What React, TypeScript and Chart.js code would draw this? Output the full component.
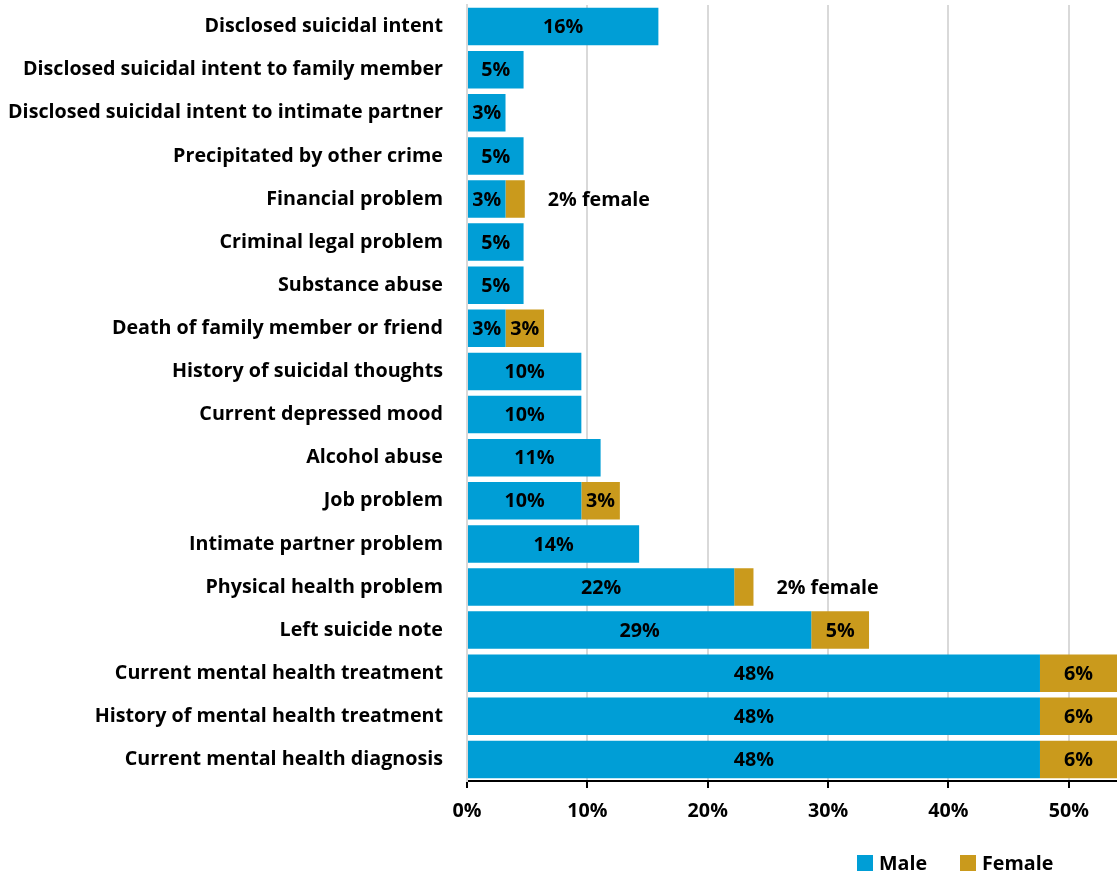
import React, { useEffect, useRef } from "react";
import { Chart, registerables } from "chart.js";

Chart.register(...registerables);

const categories = [
  "Disclosed suicidal intent",
  "Disclosed suicidal intent to family member",
  "Disclosed suicidal intent to intimate partner",
  "Precipitated by other crime",
  "Financial problem",
  "Criminal legal problem",
  "Substance abuse",
  "Death of family member or friend",
  "History of suicidal thoughts",
  "Current depressed mood",
  "Alcohol abuse",
  "Job problem",
  "Intimate partner problem",
  "Physical health problem",
  "Left suicide note",
  "Current mental health treatment",
  "History of mental health treatment",
  "Current mental health diagnosis",
];

const maleValues = [15.9, 4.7, 3.2, 4.7, 3.2, 4.7, 4.7, 3.2, 9.5, 9.5, 11.1, 9.5, 14.3, 22.2, 28.6, 47.6, 47.6, 47.6];
const femaleValues = [0, 0, 0, 0, 1.6, 0, 0, 3.2, 0, 0, 0, 3.2, 0, 1.6, 4.8, 6.4, 6.4, 6.4];
const maleLabels = ["16%", "5%", "3%", "5%", "3%", "5%", "5%", "3%", "10%", "10%", "11%", "10%", "14%", "22%", "29%", "48%", "48%", "48%"];
const femaleLabels = ["", "", "", "", "2% female", "", "", "3%", "", "", "", "3%", "", "2% female", "5%", "6%", "6%", "6%"];
const femaleLabelOutside = [false, false, false, false, true, false, false, false, false, false, false, false, false, true, false, false, false, false];
const xTicks = [0, 10, 20, 30, 40, 50];

const FONT = "'Open Sans'";
const FONT_SIZE = 19.7;
const MALE_COLOR = "#009ED6";
const FEMALE_COLOR = "#CA9A1C";

const labelPlugin = {
  id: "barLabels",
  afterDatasetsDraw(chart: any) {
    const ctx = chart.ctx;
    ctx.save();
    ctx.font = `bold ${FONT_SIZE}px ${FONT}`;
    ctx.fillStyle = "#000";
    ctx.textBaseline = "middle";
    chart.data.datasets.forEach((ds: any, di: number) => {
      const meta = chart.getDatasetMeta(di);
      meta.data.forEach((el: any, i: number) => {
        const text = di === 0 ? maleLabels[i] : femaleLabels[i];
        if (!text) return;
        if (di === 1 && femaleLabelOutside[i]) {
          ctx.textAlign = "left";
          ctx.fillText(text, el.x + 23, el.y + 1);
        } else {
          ctx.textAlign = "center";
          ctx.fillText(text, (el.x + el.base) / 2, el.y + 1);
        }
      });
    });
    ctx.restore();
  },
};

export default function App() {
  const ref = useRef<HTMLCanvasElement>(null);
  useEffect(() => {
    if (!ref.current) return;
    const chart = new Chart(ref.current, {
      type: "bar",
      data: {
        labels: categories,
        datasets: [
          {
            label: "Male",
            data: maleValues,
            backgroundColor: MALE_COLOR,
            borderWidth: 0,
            barPercentage: 0.87,
            categoryPercentage: 1,
          },
          {
            label: "Female",
            data: femaleValues,
            backgroundColor: FEMALE_COLOR,
            borderWidth: 0,
            barPercentage: 0.87,
            categoryPercentage: 1,
          },
        ],
      },
      options: {
        indexAxis: "y",
        animation: false,
        responsive: true,
        maintainAspectRatio: false,
        layout: { padding: { top: 5, right: 0, bottom: 0, left: 0 } },
        plugins: {
          legend: { display: false },
          tooltip: { enabled: false },
        },
        scales: {
          x: {
            stacked: true,
            min: 0,
            max: 54,
            afterBuildTicks(scale: any) {
              scale.ticks = xTicks.map((v) => ({ value: v }));
            },
            afterFit(scale: any) {
              scale.height = 92;
              scale.paddingRight = 0;
            },
            grid: {
              color: "#D9D9D9",
              lineWidth: 2,
              tickColor: "#000",
              tickLength: 7,
              tickWidth: 2,
            },
            border: { color: "#000", width: 2 },
            ticks: {
              padding: 12,
              color: "#000",
              font: { family: FONT, weight: "bold", size: FONT_SIZE },
              callback: (v: any) => v + "%",
              maxRotation: 0,
            },
          },
          y: {
            stacked: true,
            afterFit(scale: any) {
              scale.width = 467;
              scale.paddingTop = 0;
              scale.paddingBottom = 0;
            },
            grid: { display: false, drawTicks: false },
            border: { display: true, color: "#D9D9D9", width: 2 },
            ticks: {
              padding: 24,
              color: "#000",
              font: { family: FONT, weight: "bold", size: FONT_SIZE },
              autoSkip: false,
            },
          },
        },
      },
      plugins: [labelPlugin],
    });
    return () => chart.destroy();
  }, []);

  const legendText: React.CSSProperties = {
    position: "absolute",
    fontFamily: FONT,
    fontWeight: "bold",
    fontSize: FONT_SIZE,
    color: "#000",
    lineHeight: "20px",
    top: 853,
    whiteSpace: "nowrap",
  };
  const box = (c: string, left: number): React.CSSProperties => ({
    position: "absolute",
    left,
    top: 855,
    width: 16,
    height: 16,
    background: c,
  });

  return (
    <div style={{ position: "absolute", left: 0, top: 0, width: 1117, height: 873, background: "#fff" }}>
      <canvas ref={ref} />
      <span style={box(MALE_COLOR, 857)} />
      <span style={{ ...legendText, left: 879 }}>Male</span>
      <span style={box(FEMALE_COLOR, 960)} />
      <span style={{ ...legendText, left: 982 }}>Female</span>
    </div>
  );
}
